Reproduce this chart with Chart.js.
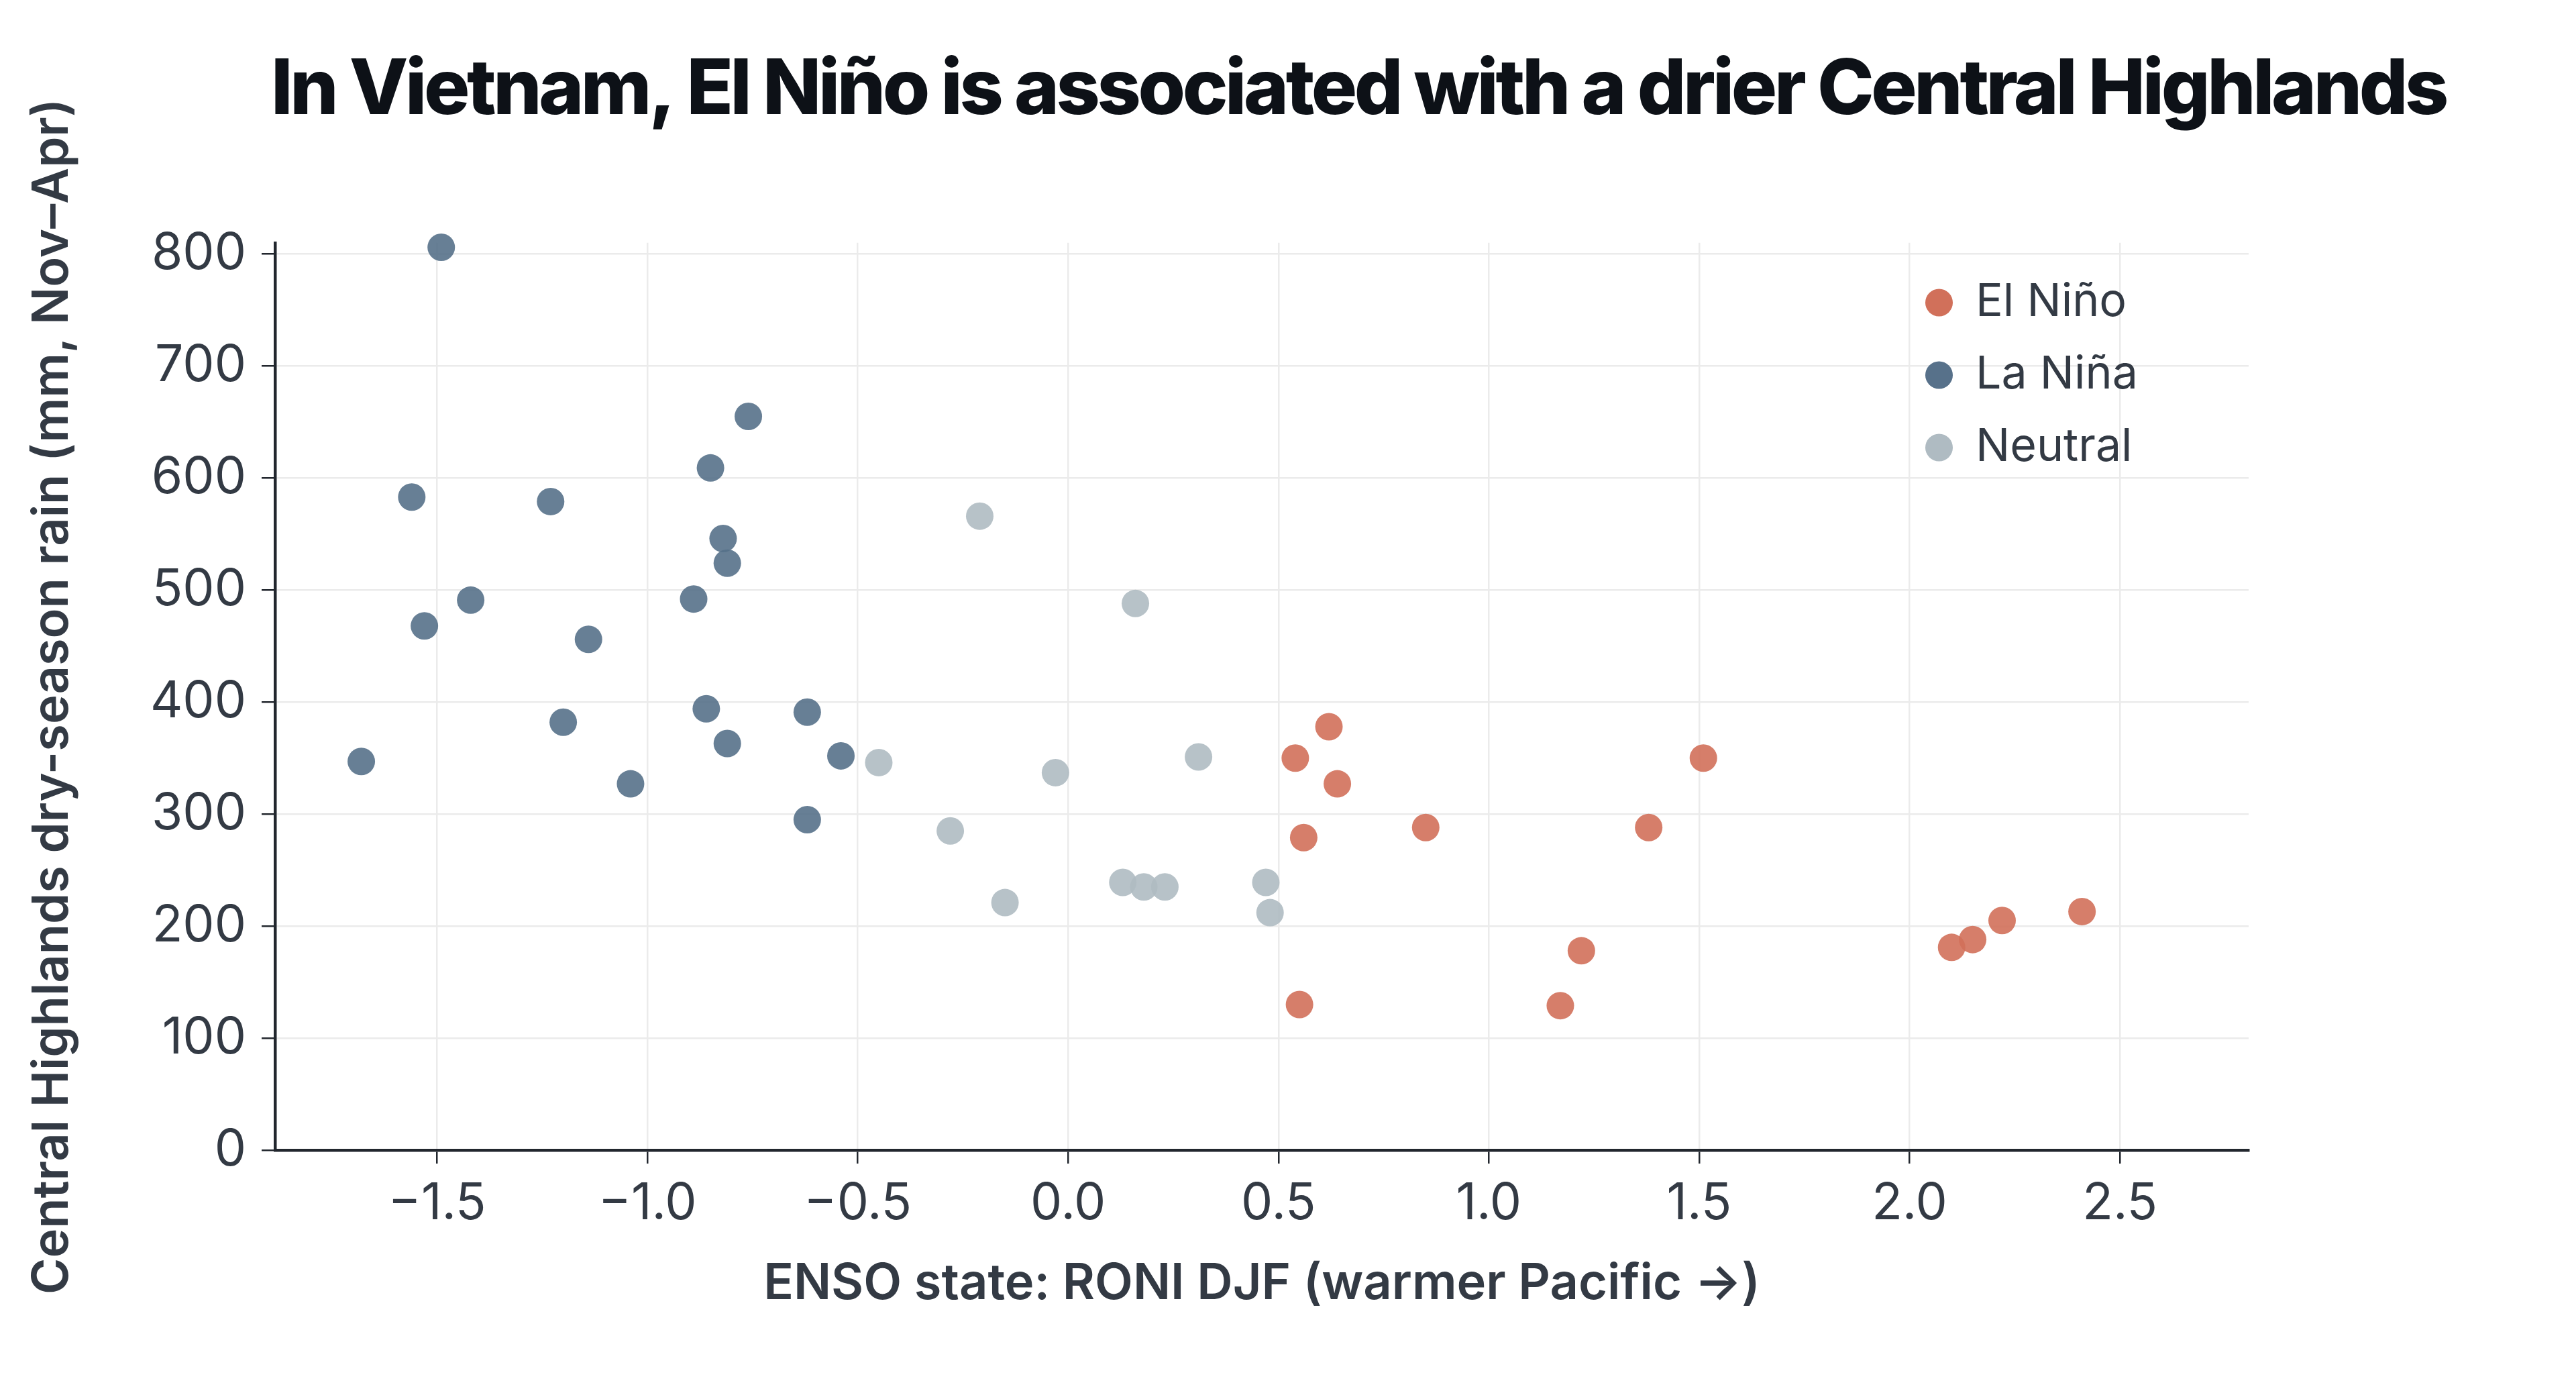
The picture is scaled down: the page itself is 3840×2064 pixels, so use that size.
<!DOCTYPE html>
<html>
<head>
<meta charset="utf-8">
<script src="https://cdn.jsdelivr.net/npm/chart.js@4.4.1/dist/chart.umd.min.js"></script>
<style>
  html, body { margin: 0; padding: 0; background: #fff; }
  #wrap { width: 3840px; height: 2064px; }
</style>
</head>
<body>
<div id="wrap"><canvas id="grafico" width="3840" height="2064"></canvas></div>
<script>
// ENSO index (RONI DJF) and Central Highlands dry-season rain (mm)
const elNinoX = [0.62, 0.54, 1.51, 0.64, 0.85, 1.38, 0.56, 1.22, 0.55, 1.17, 2.10, 2.15, 2.22, 2.41];
const elNinoY = [378, 350, 350, 327, 288, 288, 279, 178, 130, 129, 181, 188, 205, 213];

const laNinaX = [-1.49, -1.56, -1.23, -0.76, -0.85, -0.82, -0.81, -0.89, -1.42, -1.53,
                 -1.14, -0.86, -0.62, -1.20, -0.81, -0.54, -1.68, -1.04, -0.62];
const laNinaY = [806, 583, 579, 655, 609, 546, 524, 492, 491, 468,
                 456, 394, 391, 382, 363, 352, 347, 327, 295];

const neutralX = [-0.21, 0.16, -0.45, -0.03, 0.31, -0.28, -0.15, 0.13, 0.18, 0.23, 0.47, 0.48];
const neutralY = [566, 488, 346, 337, 351, 285, 221, 239, 235, 235, 239, 212];

const xTicks = [-1.5, -1.0, -0.5, 0.0, 0.5, 1.0, 1.5, 2.0, 2.5];
const yTicks = [0, 100, 200, 300, 400, 500, 600, 700, 800];

const etiquetas = ['El Niño', 'La Niña', 'Neutral'];
const colores = ['#D1705A', '#57718A', '#AFBBC2'];
const alfa = 0.9;

function pares(xs, ys) { return xs.map((x, i) => ({ x, y: ys[i] })); }
function rgba(hex, a) {
  const n = parseInt(hex.slice(1), 16);
  return `rgba(${n >> 16}, ${(n >> 8) & 255}, ${n & 255}, ${a})`;
}

const series = [pares(elNinoX, elNinoY), pares(laNinaX, laNinaY), pares(neutralX, neutralY)];

const texto = '#333a44';
const fuente = 'Inter, "Noto Sans", "DejaVu Sans", sans-serif';

// legend inside the plot (top right); title box widened and tracked tighter
const colocarCajas = {
  id: 'colocarCajas',
  afterLayout(chart) {
    const lg = chart.legend;
    const w = lg.width, h = lg.height;
    lg.left = 2830; lg.right = lg.left + w;
    lg.top = 377; lg.bottom = lg.top + h;
    const tb = chart.titleBlock;
    tb.left = 404; tb.right = 3830;
    if (!tb._apretado) {
      const dibujar = tb.draw.bind(tb);
      tb.draw = function () {
        const c = this.ctx;
        const antes = c.letterSpacing;
        c.letterSpacing = '-4.4px';
        dibujar();
        c.letterSpacing = antes || '0px';
      };
      tb._apretado = true;
    }
  }
};

new Chart(document.getElementById('grafico'), {
  type: 'scatter',
  data: {
    datasets: series.map((d, i) => ({
      label: etiquetas[i],
      data: d,
      backgroundColor: rgba(colores[i], alfa),
      borderWidth: 0,
      pointRadius: 20.5,
      pointHoverRadius: 20.5,
      clip: false
    }))
  },
  options: {
    responsive: false,
    animation: false,
    devicePixelRatio: 1,
    layout: { padding: { left: 0, right: 488, top: 0, bottom: 0 } },
    plugins: {
      tooltip: { enabled: false },
      title: {
        display: true,
        text: 'In Vietnam, El Niño is associated with a drier Central Highlands',
        align: 'start',
        fullSize: false,
        color: '#0d1117',
        font: { family: fuente, size: 114, weight: '800', lineHeight: 1.2 },
        padding: { top: 67, bottom: 158 }
      },
      legend: {
        position: 'chartArea',
        align: 'start',
        labels: {
          usePointStyle: true,
          pointStyle: 'circle',
          boxWidth: 41,
          boxHeight: 29,
          padding: 40,
          color: texto,
          font: { family: fuente, size: 68 },
          generateLabels(chart) {
            const base = Chart.defaults.plugins.legend.labels.generateLabels(chart);
            return base.map((it, i) => Object.assign(it, {
              fillStyle: colores[i], strokeStyle: colores[i], lineWidth: 0
            }));
          }
        }
      }
    },
    scales: {
      x: {
        type: 'linear',
        min: -1.885,
        max: 2.806,
        afterBuildTicks(scale) { scale.ticks = xTicks.map(v => ({ value: v })); },
        afterFit(scale) { scale.height = 350; },
        border: { display: true, color: '#22272e', width: 4.5 },
        grid: { color: '#ebebeb', lineWidth: 2.5, tickColor: '#22272e', tickLength: 20, tickWidth: 2.5 },
        ticks: {
          padding: 15,
          color: texto,
          font: { family: fuente, size: 75 },
          maxRotation: 0,
          callback: v => v.toFixed(1).replace('-', '\u2212')
        },
        title: {
          display: true,
          text: 'ENSO state: RONI DJF (warmer Pacific \u2192)',
          color: texto,
          font: { family: fuente, size: 74, weight: '600', lineHeight: 1.2 },
          padding: { top: 25, bottom: 106 }
        }
      },
      y: {
        type: 'linear',
        min: 0,
        max: 810,
        afterBuildTicks(scale) { scale.ticks = yTicks.map(v => ({ value: v })); },
        afterFit(scale) { scale.width = 410; },
        border: { display: true, color: '#22272e', width: 4.5 },
        grid: { color: '#ebebeb', lineWidth: 2.5, tickColor: '#22272e', tickLength: 20, tickWidth: 2.5 },
        ticks: {
          padding: 23,
          color: texto,
          font: { family: fuente, size: 75 }
        },
        title: {
          display: true,
          text: 'Central Highlands dry-season rain (mm, Nov\u2013Apr)',
          color: texto,
          font: { family: fuente, size: 74, weight: '600', lineHeight: 1.2 },
          padding: { top: 34, bottom: 10 }
        }
      }
    }
  },
  plugins: [colocarCajas]
});
</script>
</body>
</html>
